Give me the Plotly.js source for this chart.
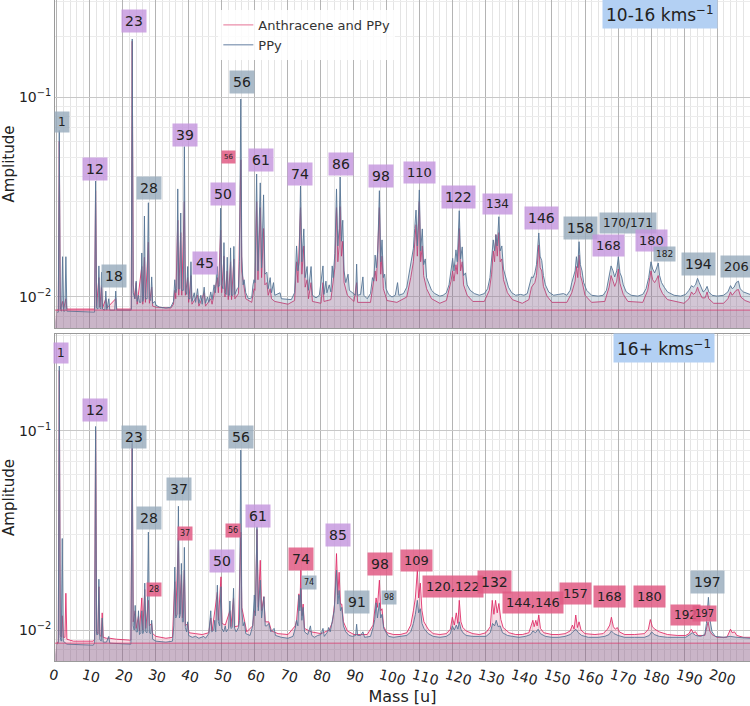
<!DOCTYPE html>
<html><head><meta charset="utf-8">
<script src="https://cdn.plot.ly/plotly-3.0.1.min.js"></script>
<style>html,body{margin:0;padding:0;background:#fff;}#chart{width:750px;height:706px;}</style>
</head><body><div id="chart"></div>
<script>
// ---------- data: [mass (u), amplitude] ----------
const top_PPy = [[0,0.0084],[0.4,0.0084],[0.7,0.068],[1.0,0.0086],[1.4,0.0085],[1.7,0.0159],[2.0,0.0085],[2.4,0.0085],[2.7,0.0159],[3.0,0.0085],
[11.4,0.0084],[11.7,0.038],[12.0,0.0088],[12.4,0.0087],[12.7,0.0143],[13.0,0.0088],[13.3,0.0087],[13.5,0.0133],[13.8,0.0087],[14.5,0.0086],[14.8,0.0107],[15.1,0.0086],[15.7,0.0098],[16.0,0.0086],[17.5,0.0086],[17.8,0.0107],[18.1,0.0086],
[22.5,0.0086],[22.8,0.195],[23.1,0.0105],[23.6,0.0098],[24.0,0.012],[24.3,0.0095],[24.7,0.0102],[25.0,0.0094],[25.4,0.0094],[25.7,0.0166],[26.0,0.0095],[26.2,0.0098],[26.5,0.0254],[26.8,0.0098],[27.3,0.0098],[27.7,0.0296],[28.0,0.0098],[28.4,0.0096],[28.7,0.0126],[29.0,0.0093],[29.7,0.0095],[30.0,0.0091],[31,0.0089],[33,0.0088],[34.5,0.0089],
[35.3,0.0095],[35.7,0.0122],[36.0,0.0105],[36.3,0.011],[36.6,0.0347],[36.9,0.011],[37.2,0.011],[37.5,0.0263],[37.8,0.0108],[38.3,0.0108],[38.6,0.0565],[38.9,0.0108],[39.3,0.0103],[39.6,0.0142],[39.9,0.0098],[40.3,0.0098],[40.6,0.015],[40.9,0.0095],[41.6,0.0105],[42,0.0094],[42.6,0.011],[43,0.0093],[43.6,0.0102],[44,0.0092],[44.6,0.0112],[45,0.0093],[45.6,0.0100],[46,0.0094],[46.6,0.0106],[47,0.0097],[47.6,0.0115],[48,0.0105],[48.6,0.0142],[48.9,0.0112],[49.3,0.0115],[49.6,0.0278],[49.9,0.0115],[50.3,0.011],[50.6,0.0187],[50.9,0.0105],[51.3,0.0103],[51.6,0.0158],[51.9,0.0102],[52.3,0.0102],[52.6,0.0176],[52.9,0.0102],[53.3,0.0102],[53.6,0.0179],[53.9,0.0103],[54.6,0.011],[55.0,0.0112],[55.3,0.015],[55.7,0.0977],[56.0,0.016],[56.4,0.0115],[56.7,0.0122],[57.2,0.0105],[58,0.0098],[59,0.0099],[59.4,0.0115],[59.7,0.0122],[60.0,0.0118],[60.5,0.0412],[60.9,0.0135],[61.6,0.0372],[62.0,0.014],[62.6,0.0324],[63.0,0.013],[63.6,0.0133],[64.0,0.011],[64.6,0.0125],[65.0,0.0105],[65.6,0.0118],[66,0.0102],[67.6,0.0105],[68,0.0098],[70,0.0097],[71,0.0097],
[72.0,0.0105],[72.6,0.018],[73.0,0.0135],[73.4,0.015],[73.8,0.0359],[74.2,0.015],[74.8,0.0219],[75.2,0.0125],[75.8,0.0142],[76.2,0.0108],[77.0,0.0142],[77.4,0.0102],[78.5,0.0099],[79.5,0.0102],[80.6,0.0143],[80.9,0.0103],[81.5,0.012],[81.8,0.0105],[82.5,0.0115],[83.0,0.0106],[83.4,0.0143],[83.7,0.0125],[84.2,0.0165],[84.7,0.0347],[85.1,0.018],[85.5,0.022],[85.8,0.0398],[86.2,0.019],[86.6,0.0242],[87.0,0.0135],[87.5,0.0118],[88.2,0.013],[88.6,0.0108],[89.5,0.0105],[90.5,0.0102],[90.8,0.0146],[91.1,0.0102],[92,0.0103],[92.7,0.0126],[93,0.0102],[94,0.0098],[95,0.0104],[95.6,0.0125],[96,0.012],[96.4,0.0162],[96.8,0.014],[97.2,0.017],[97.7,0.034],[98.1,0.015],[98.5,0.0193],[98.9,0.0125],[99.3,0.013],[99.7,0.011],[100.5,0.0103],[101.5,0.0100],[102.5,0.0102],[103.2,0.0118],[103.6,0.0102],[105,0.0104],[106,0.0112],[106.7,0.013],[107.2,0.0145],[107.6,0.0155],[108.0,0.0175],[108.4,0.022],[108.8,0.0272],[109.2,0.018],[109.8,0.0343],[110.2,0.017],[110.7,0.0219],[111.1,0.0145],[111.6,0.0155],[112.0,0.0125],[112.8,0.0115],[113.5,0.0108],[114.5,0.0104],[116,0.0101],[117,0.0102],[118,0.0105],[118.8,0.0115],[119.4,0.0135],[119.9,0.0156],[120.3,0.0135],[120.9,0.0172],[121.3,0.015],[121.9,0.027],[122.3,0.0155],[122.8,0.0178],[123.2,0.0128],[123.8,0.0132],[124.3,0.0115],[125.2,0.0108],[126.5,0.0104],[128,0.0102],[129.5,0.0104],[130.5,0.011],[131.2,0.0125],[131.7,0.015],[132.2,0.0193],[132.6,0.017],[133.0,0.0205],[133.4,0.018],[133.9,0.0252],[134.3,0.017],[134.8,0.018],[135.3,0.0138],[136.0,0.0125],[136.8,0.0112],[137.8,0.0105],[139,0.0102],[140.5,0.0103],[141.5,0.0102],[142.5,0.0104],[143.2,0.0115],[143.8,0.0126],[144.3,0.0125],[144.8,0.0132],[145.3,0.0145],[146.0,0.0209],[146.4,0.016],[146.9,0.0152],[147.4,0.0128],[148.0,0.0115],[149,0.0106],[150.5,0.0102],[152,0.0103],[153.5,0.0104],[154.5,0.0102],[155.5,0.0108],[156.0,0.0118],[156.5,0.0126],[157.0,0.0135],[157.4,0.0159],[157.8,0.014],[158.2,0.0189],[158.6,0.0145],[159.1,0.0135],[159.6,0.0118],[160.5,0.0108],[162,0.0102],[164,0.0101],[165.5,0.0102],[166.5,0.0108],[167.3,0.0125],[167.9,0.0143],[168.5,0.0135],[169.0,0.0126],[169.6,0.0135],[170.1,0.0159],[170.6,0.0132],[171.1,0.0126],[171.6,0.0115],[172.5,0.0106],[174,0.0102],[176,0.0101],[177.5,0.0103],[178.5,0.011],[179.3,0.0125],[180.0,0.015],[180.5,0.0138],[181.1,0.0132],[181.6,0.0138],[182.2,0.0148],[182.6,0.0128],[183.2,0.0118],[184,0.0112],[185,0.0106],[187,0.0102],[189,0.0101],[190.5,0.0103],[191.5,0.0108],[192.3,0.0114],[192.8,0.0112],[193.5,0.0115],[194.1,0.0124],[194.6,0.0118],[195.2,0.0112],[195.8,0.0106],[196.4,0.0108],[197.0,0.0113],[197.5,0.0106],[198.5,0.0102],[200,0.0101],[202,0.0102],[203.3,0.0106],[204.1,0.0114],[204.6,0.011],[205.2,0.0112],[205.8,0.0118],[206.5,0.012],[207.0,0.011],[208,0.0106],[210,0.0103]];

const top_AnthPPy = [[0,0.0086],[0.4,0.0086],[0.7,0.060],[1.0,0.0087],[1.7,0.0095],[2.0,0.0087],[2.7,0.0098],[3.0,0.0087],[11.4,0.0087],[11.7,0.034],[12.0,0.009],[12.7,0.0125],[13.0,0.0089],[13.5,0.0115],[13.8,0.0088],[14.8,0.0098],[15.1,0.0088],[17.8,0.0098],[18.1,0.0087],[22.5,0.0087],[22.8,0.19],[23.1,0.0115],[23.6,0.0098],[24.0,0.0118],[24.3,0.0092],[25.7,0.0142],[26.0,0.0092],[26.5,0.0158],[26.8,0.0094],[27.7,0.0188],[28.0,0.0093],[28.7,0.0112],[29.0,0.009],[30,0.0089],[34.5,0.0088],[35.3,0.0092],[35.7,0.0108],[36.0,0.0098],[36.6,0.0242],[36.9,0.0102],[37.5,0.021],[37.8,0.0102],[38.6,0.030],[38.9,0.0102],[39.6,0.0125],[39.9,0.0094],[40.6,0.0128],[40.9,0.0092],[42.6,0.0102],[43,0.009],[44.6,0.0105],[45,0.009],[46.6,0.0098],[47,0.0092],[48.6,0.0125],[48.9,0.0105],[49.6,0.0216],[49.9,0.0105],[50.6,0.0160],[50.9,0.0100],[51.6,0.0135],[51.9,0.0097],[52.6,0.0150],[52.9,0.0097],[53.6,0.0155],[53.9,0.0098],[55.0,0.0104],[55.7,0.0485],[56.0,0.0135],[56.7,0.011],[57.2,0.0098],[59,0.0094],[59.7,0.011],[60.0,0.0108],[60.5,0.030],[60.9,0.0122],[61.6,0.028],[62.0,0.0125],[62.6,0.022],[63.0,0.0115],[63.6,0.0118],[64.0,0.0102],[64.6,0.011],[65,0.0098],[66,0.0095],[70,0.0092],[72,0.0096],[72.6,0.015],[73.0,0.0118],[73.8,0.028],[74.2,0.013],[74.8,0.018],[75.2,0.0112],[75.8,0.0122],[76.2,0.0098],[77.0,0.0118],[77.4,0.0095],[80,0.0093],[80.6,0.0118],[80.9,0.0095],[83,0.0097],[84.2,0.014],[84.7,0.028],[85.1,0.015],[85.5,0.018],[85.8,0.0283],[86.2,0.016],[86.6,0.019],[87.0,0.0118],[88,0.0102],[90,0.0095],[90.8,0.0118],[91.1,0.0094],[95,0.0094],[96.4,0.0135],[96.8,0.012],[97.7,0.028],[98.1,0.013],[98.5,0.016],[98.9,0.011],[100,0.0096],[103,0.0094],[106,0.0100],[107.2,0.0125],[108.0,0.015],[108.8,0.023],[109.2,0.016],[109.8,0.030],[110.2,0.015],[110.7,0.018],[111.1,0.0128],[112,0.011],[113.5,0.0098],[116,0.0093],[118,0.0096],[119.4,0.012],[119.9,0.0135],[120.3,0.012],[120.9,0.0145],[121.3,0.013],[121.9,0.022],[122.3,0.0135],[122.8,0.015],[123.2,0.0115],[124.3,0.0102],[126,0.0095],[129.5,0.0095],[131,0.0108],[131.7,0.013],[132.2,0.017],[132.6,0.015],[133.0,0.0205],[133.4,0.016],[133.9,0.021],[134.3,0.015],[134.8,0.0155],[135.3,0.0122],[136.5,0.0105],[138,0.0097],[141,0.0093],[143,0.0097],[143.8,0.0112],[144.8,0.0118],[145.3,0.0128],[146.0,0.0182],[146.4,0.014],[146.9,0.0135],[147.4,0.0113],[148.5,0.0101],[150,0.0094],[154.5,0.0094],[156,0.0105],[156.5,0.0112],[157.0,0.012],[157.4,0.0142],[157.8,0.0125],[158.2,0.0162],[158.6,0.0128],[159.1,0.012],[160,0.0102],[162,0.0094],[166,0.0095],[167.3,0.0112],[167.9,0.0128],[168.5,0.012],[169.0,0.0113],[169.6,0.012],[170.1,0.0138],[170.6,0.0117],[171.6,0.0103],[173,0.0095],[177.5,0.0094],[179,0.0108],[180.0,0.0135],[180.5,0.0122],[181.1,0.0118],[181.6,0.0122],[182.2,0.0128],[182.6,0.0112],[183.5,0.0104],[185,0.0097],[190,0.0093],[191.5,0.0098],[192.3,0.0106],[192.8,0.0103],[193.5,0.0105],[194.1,0.0112],[194.6,0.0106],[195.5,0.0099],[196.4,0.0099],[197.0,0.0106],[197.5,0.0098],[199,0.0093],[202,0.0093],[203.3,0.0098],[204.1,0.0106],[204.6,0.0102],[205.8,0.0108],[206.5,0.0109],[207.2,0.0100],[208.5,0.0096],[210,0.0094]];

const bot_PPy = [[0,0.0085],[0.4,0.0086],[0.7,0.211],[1.0,0.0092],[1.3,0.0088],[1.6,0.0288],[1.9,0.0088],[2.5,0.0086],[3,0.0085],[11,0.0084],[11.4,0.0086],[11.7,0.105],[12.0,0.0095],[12.4,0.0095],[12.7,0.018],[13.0,0.009],[13.4,0.0088],[13.7,0.0115],[14.0,0.0087],[15,0.0087],[15.7,0.0093],[16,0.0086],[22.4,0.0085],[22.8,0.088],[23.1,0.0105],[23.4,0.0100],[23.7,0.0133],[24.0,0.0098],[24.4,0.0098],[24.7,0.0125],[25.0,0.0095],[25.4,0.0097],[25.7,0.0125],[26.0,0.0096],[26.3,0.0099],[26.6,0.0172],[26.9,0.0098],[27.3,0.0097],[27.7,0.031],[28.0,0.0097],[28.4,0.0096],[28.7,0.0112],[29.0,0.009],[30,0.0088],[33,0.0087],[35,0.0088],[35.4,0.0105],[35.7,0.0207],[36.0,0.0115],[36.4,0.012],[36.8,0.0418],[37.1,0.0115],[37.4,0.012],[37.7,0.0216],[38.0,0.011],[38.3,0.011],[38.6,0.026],[38.9,0.0103],[39.3,0.0098],[39.6,0.011],[39.9,0.0094],[41,0.0092],[42,0.0093],[43,0.0091],[44.5,0.0093],[45,0.0091],[46,0.0096],[46.6,0.0125],[46.9,0.0098],[47.5,0.01],[47.8,0.0112],[48.1,0.0098],[48.6,0.0168],[48.9,0.011],[49.3,0.0105],[49.7,0.0165],[50.0,0.0102],[50.5,0.0098],[51,0.0105],[51.3,0.0098],[52,0.0102],[52.4,0.014],[52.7,0.0102],[53.1,0.0103],[53.5,0.0162],[53.8,0.0102],[54.3,0.0098],[55,0.0103],[55.3,0.0112],[55.7,0.080],[56.0,0.0125],[56.4,0.0105],[56.8,0.011],[57.2,0.0096],[58.5,0.0094],[59.3,0.0105],[59.8,0.015],[60.1,0.0118],[60.6,0.033],[61.0,0.0125],[61.6,0.0178],[62.0,0.0115],[62.7,0.0147],[63.1,0.0105],[63.6,0.0105],[64.2,0.0108],[64.8,0.0098],[65.8,0.0102],[66.2,0.0094],[68,0.0092],[70,0.0091],[71.5,0.0093],[72.2,0.0102],[72.6,0.0112],[73.0,0.0105],[73.3,0.0150],[73.6,0.0125],[73.9,0.0162],[74.2,0.0112],[74.6,0.013],[75.0,0.0098],[76,0.0095],[76.8,0.0105],[77.2,0.0094],[78,0.0092],[79,0.0094],[80,0.0095],[80.6,0.0102],[81,0.0093],[82,0.0098],[82.3,0.0103],[82.8,0.0098],[83.3,0.0108],[84.0,0.0125],[84.7,0.020],[85.1,0.0135],[85.5,0.0158],[85.9,0.0125],[86.3,0.013],[86.8,0.0105],[87.5,0.0098],[88.5,0.0094],[89.5,0.0093],[90.5,0.0094],[90.8,0.0107],[91.1,0.0094],[92,0.0094],[92.7,0.0098],[93.2,0.0092],[95,0.0093],[95.8,0.0103],[96.3,0.0113],[96.7,0.0137],[97.1,0.0115],[97.7,0.0137],[98.1,0.0115],[98.5,0.012],[99.0,0.0102],[99.6,0.0098],[100.5,0.0093],[102,0.0092],[104,0.0093],[106,0.0094],[107.2,0.0098],[108.0,0.0108],[108.6,0.012],[109.2,0.0141],[109.6,0.0122],[110.1,0.0128],[110.6,0.0108],[111.2,0.0102],[112.5,0.0096],[114,0.0093],[116,0.0092],[118,0.0093],[119.2,0.0096],[119.8,0.0105],[120.4,0.010],[121.0,0.0106],[121.5,0.0101],[121.9,0.011],[122.4,0.0101],[123,0.0097],[124,0.0094],[126,0.0093],[128,0.0093],[130,0.0093],[131.3,0.0097],[132.0,0.0108],[132.6,0.0105],[133.1,0.0112],[133.7,0.0104],[134.3,0.0105],[135,0.0097],[136.5,0.0094],[138,0.0093],[140,0.0092],[142,0.0093],[143.5,0.0095],[144.2,0.0099],[145,0.0097],[145.8,0.0101],[146.5,0.0096],[148,0.0093],[150,0.0092],[152,0.0092],[154,0.0093],[155.5,0.0095],[156.5,0.0098],[157.2,0.0101],[158,0.0097],[159,0.0094],[161,0.0092],[164,0.0092],[166,0.0093],[167.3,0.0095],[168,0.0099],[168.8,0.0096],[170,0.0094],[172,0.0092],[175,0.0092],[178,0.0092],[179.5,0.0094],[180.2,0.0098],[181,0.0095],[182.5,0.0093],[185,0.0092],[188,0.0092],[190.5,0.0092],[191.8,0.0095],[192.5,0.0097],[193.5,0.0094],[195,0.0093],[196.3,0.0095],[196.8,0.0108],[197.4,0.0146],[197.9,0.0112],[198.5,0.0098],[199.5,0.0093],[202,0.0092],[204,0.0093],[206,0.0092],[210,0.0091]];

const bot_AnthPPy = [[0,0.0086],[0.4,0.0088],[0.7,0.2],[1.0,0.0095],[1.3,0.0092],[1.6,0.0118],[1.9,0.0092],[2.4,0.0092],[2.7,0.0153],[3.0,0.009],[5,0.0088],[11,0.0088],[11.4,0.009],[11.7,0.100],[12.0,0.0098],[12.4,0.0096],[12.7,0.0165],[13.0,0.0094],[13.4,0.0093],[13.7,0.0122],[14.0,0.0092],[15,0.0091],[16,0.0091],[18,0.0090],[22.4,0.0089],[22.8,0.086],[23.1,0.011],[23.7,0.0125],[24.0,0.0102],[24.7,0.0118],[25.0,0.0099],[25.7,0.0145],[26.0,0.0100],[26.6,0.016],[26.9,0.0102],[27.7,0.0141],[28.0,0.0105],[28.7,0.0108],[29.0,0.0096],[30,0.0093],[33,0.0091],[35,0.0092],[35.7,0.0175],[36.0,0.0118],[36.8,0.029],[37.1,0.012],[37.7,0.019],[38.0,0.0115],[38.6,0.020],[38.9,0.0105],[39.6,0.0108],[40,0.0097],[42,0.0096],[44,0.0095],[46,0.0097],[46.6,0.0115],[47,0.0099],[48.6,0.0155],[48.9,0.0112],[49.7,0.0185],[50.0,0.0108],[51,0.0106],[52.4,0.0125],[52.7,0.0104],[53.5,0.0145],[53.8,0.0104],[55,0.0105],[55.7,0.031],[56.0,0.013],[56.8,0.0112],[57.5,0.0098],[59.3,0.0105],[59.8,0.0125],[60.1,0.0122],[60.6,0.032],[61.0,0.013],[61.6,0.0224],[62.0,0.0125],[62.7,0.0147],[63.1,0.011],[64.2,0.011],[65,0.0099],[67,0.0096],[70,0.0095],[72.2,0.0105],[72.6,0.0112],[73.3,0.0152],[73.6,0.013],[73.9,0.020],[74.2,0.0118],[74.6,0.0135],[75,0.0102],[77,0.0098],[80,0.0096],[82.5,0.0100],[83.5,0.011],[84.1,0.0135],[84.7,0.0242],[85.1,0.015],[85.5,0.0195],[85.9,0.0135],[86.3,0.0135],[86.8,0.011],[88,0.0099],[90,0.0095],[92,0.0095],[94,0.0095],[95.8,0.0106],[96.3,0.0125],[96.7,0.0145],[97.1,0.013],[97.7,0.0178],[98.1,0.0125],[98.5,0.0128],[99,0.0104],[100,0.0097],[102,0.0095],[104,0.0095],[106,0.0097],[107.2,0.0106],[108.0,0.0125],[108.6,0.0145],[109.2,0.020],[109.6,0.0145],[110.1,0.0172],[110.6,0.0125],[111.2,0.0110],[112.5,0.0101],[114,0.0096],[116,0.0095],[118,0.0096],[119.2,0.0101],[119.8,0.0116],[120.4,0.0106],[121.0,0.0122],[121.5,0.0108],[121.9,0.0141],[122.4,0.011],[123,0.0103],[124,0.0099],[126,0.0096],[128,0.0095],[130,0.0097],[131.3,0.0104],[131.9,0.0141],[132.4,0.012],[132.9,0.0141],[133.4,0.0122],[133.9,0.0136],[134.5,0.0113],[135.2,0.0103],[137,0.0097],[139,0.0095],[141,0.0095],[143,0.0097],[143.7,0.0106],[144.2,0.0112],[144.6,0.0104],[145.1,0.0112],[145.5,0.0105],[146.0,0.0119],[146.5,0.0102],[147.5,0.0097],[150,0.0095],[152,0.0095],[154,0.0096],[155.5,0.0099],[156.2,0.0106],[156.7,0.0101],[157.2,0.0119],[157.7,0.0103],[158.2,0.0110],[158.8,0.0100],[160,0.0096],[163,0.0095],[165.5,0.0096],[166.8,0.0101],[167.5,0.0106],[168.0,0.0116],[168.6,0.0104],[169.2,0.0101],[169.8,0.0103],[170.4,0.0098],[172,0.0095],[175,0.0095],[178,0.0096],[179.2,0.0101],[179.8,0.0113],[180.4,0.0104],[181.2,0.0101],[182.5,0.0098],[185,0.0095],[188,0.0094],[190.5,0.0094],[191.5,0.0096],[192.2,0.0101],[192.8,0.0097],[193.5,0.0098],[194.2,0.0094],[196.3,0.0094],[196.9,0.0106],[197.3,0.011],[197.8,0.0099],[198.5,0.0095],[200,0.0092],[203,0.0092],[204.1,0.0101],[204.6,0.0097],[205.3,0.0098],[206,0.0094],[208,0.0092],[210,0.0092]];

// reference level line
const levelLine = 0.0086;

// labels: [text, mass position, log10 position, colour key, font size]
const topLabels = [
 ["1",1.5,-1.125,"g",12],["12",11.5,-1.36,"p",14],["18",17.3,-1.895,"g",14],["23",23.3,-0.62,"p",14],
 ["28",27.9,-1.455,"g",14],["39",38.8,-1.19,"p",14],["45",44.8,-1.83,"p",14],["50",50.3,-1.485,"p",14],
 ["56",52.1,-1.30,"r",7],["56",56.1,-0.925,"g",14],["61",61.8,-1.315,"p",14],["74",73.6,-1.385,"p",14],
 ["86",86.1,-1.335,"p",14],["98",98.2,-1.395,"p",14],["110",110,-1.38,"p",13],["122",121.8,-1.50,"p",14],
 ["134",133.6,-1.535,"p",12],["146",146.7,-1.605,"p",14],["158",158.5,-1.655,"g",14],["168",167,-1.745,"p",13],
 ["170/171",173,-1.63,"g",12],["180",180.3,-1.72,"p",13],["182",184.2,-1.785,"g",9],["194",194.5,-1.835,"g",14],
 ["206",205.8,-1.85,"g",13]
];
const botLabels = [
 ["1",1.2,-0.61,"p",12],["12",11.5,-0.895,"p",14],["23",23.3,-1.03,"g",14],["28",27.9,-1.44,"g",14],
 ["28",29.4,-1.795,"r",8],["37",37.0,-1.29,"g",14],["37",38.8,-1.515,"r",8],["50",50.0,-1.655,"p",14],
 ["56",53.3,-1.50,"r",8],["56",55.8,-1.03,"g",14],["61",60.9,-1.43,"p",14],["74",73.9,-1.645,"r",14],
 ["74",76.4,-1.76,"g",8],["85",85.2,-1.525,"p",14],["91",90.9,-1.86,"g",14],["98",97.9,-1.67,"r",14],
 ["98",100.6,-1.835,"g",8],["109",108.8,-1.65,"r",13],["120,122",120,-1.78,"r",13],["132",132.7,-1.76,"r",14],
 ["144,146",144.2,-1.86,"r",13],["157",157,-1.815,"r",13],["168",167.3,-1.83,"r",13],["180",179.4,-1.83,"r",13],
 ["192",190.6,-1.925,"r",12],["197",196.3,-1.915,"r",10],["197",197,-1.76,"g",14]
];
const xTicks = [0,10,20,30,40,50,60,70,80,90,100,110,120,130,140,150,160,170,180,190,200];
const panelTitles = ["10-16 kms<sup>−1</sup>","16+ kms<sup>−1</sup>"];
const seriesNames = ["Anthracene and PPy","PPy"];

// ---------- build ----------
const FONT = "DejaVu Sans, sans-serif";
const PINK = "rgba(222,40,100,0.85)", BLUE = "rgba(88,118,150,0.9)";
const PINKFILL = "rgba(224,60,115,0.17)", BLUEFILL = "rgba(95,127,159,0.25)";
const BASEFILL = "rgba(150,70,115,0.13)";
const boxCol = {p:"rgba(196,150,222,0.82)", g:"rgba(150,170,188,0.8)", r:"rgba(224,90,132,0.85)"};

const traces = [];
function base(xa, ya){ traces.push({x:[-5,215], y:[0.003,0.003], xaxis:xa, yaxis:ya, mode:"lines", line:{width:0}, hoverinfo:"skip", showlegend:false}); }
function spec(pairs, xa, ya, col, fill){
  base(xa, ya);
  traces.push({x:pairs.map(p=>p[0]), y:pairs.map(p=>p[1]), xaxis:xa, yaxis:ya, mode:"lines",
    line:{color:col, width:1}, fill:"tonexty", fillcolor:fill, showlegend:false, hoverinfo:"skip"});
}
function level(xa, ya){
  base(xa, ya);
  traces.push({x:[-5,215], y:[levelLine,levelLine], xaxis:xa, yaxis:ya, mode:"lines",
    line:{color:"rgba(215,60,110,0.8)", width:1}, fill:"tonexty", fillcolor:BASEFILL, showlegend:false, hoverinfo:"skip"});
}
spec(top_AnthPPy, "x", "y", PINK, PINKFILL);
spec(top_PPy, "x", "y", BLUE, BLUEFILL);
level("x", "y");
spec(bot_AnthPPy, "x2", "y2", PINK, PINKFILL);
spec(bot_PPy, "x2", "y2", BLUE, BLUEFILL);
level("x2", "y2");
traces.push({x:[null], y:[null], mode:"lines", name:seriesNames[0], line:{color:"rgba(232,130,160,0.9)", width:1.3}, xaxis:"x", yaxis:"y"});
traces.push({x:[null], y:[null], mode:"lines", name:seriesNames[1], line:{color:"rgba(140,160,185,0.9)", width:1.3}, xaxis:"x", yaxis:"y"});

const annotations = [];
function addLabels(list, xr, yr){
  list.forEach(l=>{
    annotations.push({text:l[0], x:l[1], y:l[2], xref:xr, yref:yr, showarrow:false, xanchor:"center", yanchor:"middle",
      font:{family:FONT, size:l[4], color:"#222"}, bgcolor:boxCol[l[3]], borderpad:l[4]>=12?3:2});
  });
}
addLabels(topLabels, "x", "y");
addLabels(botLabels, "x2", "y2");
annotations.push({text:panelTitles[0], xref:"paper", yref:"paper", x:0.8705, y:0.979, xanchor:"center", yanchor:"middle", showarrow:false,
  font:{family:FONT, size:17, color:"#222"}, bgcolor:"#b3d0f3", borderpad:3});
annotations.push({text:panelTitles[1], xref:"paper", yref:"paper", x:0.876, y:0.4735, xanchor:"center", yanchor:"middle", showarrow:false,
  font:{family:FONT, size:17, color:"#222"}, bgcolor:"#b3d0f3", borderpad:3});

const minorVals = [0.007,0.008,0.009,0.02,0.03,0.04,0.05,0.06,0.07,0.08,0.09,0.2,0.3,0.4];
function yax(domain){
  return {type:"log", range:[-2.155,-0.515], domain:domain, tickvals:[0.01,0.1],
    ticktext:["10<sup>−2</sup>","10<sup>−1</sup>"], tickfont:{family:FONT, size:14, color:"#222"},
    showgrid:true, gridcolor:"#c8c8c8", gridwidth:1, zeroline:false, ticks:"",
    minor:{tickvals:minorVals, showgrid:true, gridcolor:"#ececec", gridwidth:1, ticks:""},
    showline:true, mirror:true, linecolor:"#9a9a9a", linewidth:1,
    title:{text:"Amplitude", font:{family:FONT, size:15, color:"#222"}, standoff:4}};
}
function xax(anchor, labels){
  return {range:[-0.6,210], anchor:anchor, tickvals:xTicks, showticklabels:labels, tickangle:15, ticklabelshift:-7,
    tickfont:{family:FONT, size:14, color:"#222"}, showgrid:true, gridcolor:"#b4b4b4", gridwidth:1,
    minor:{dtick:2, tick0:0, showgrid:true, gridcolor:"#e4e4e4", gridwidth:1, ticks:""},
    zeroline:false, ticks:"", showline:true, mirror:true, linecolor:"#9a9a9a", linewidth:1,
    title: labels ? {text:"Mass [u]", font:{family:FONT, size:16, color:"#222"}, standoff:2} : {text:""}};
}
const layout = {
  width:750, height:706, margin:{l:55, r:0, t:0, b:45},
  paper_bgcolor:"#fff", plot_bgcolor:"#fff", font:{family:FONT},
  xaxis:xax("y", false), yaxis:yax([0.5038,1]),
  xaxis2:xax("y2", true), yaxis2:yax([0,0.4947]),
  showlegend:true,
  legend:{x:0.235, y:0.985, xanchor:"left", yanchor:"top", bgcolor:"rgba(255,255,255,0.85)", traceorder:"normal",
    font:{family:FONT, size:13, color:"#333"}, itemwidth:30, tracegroupgap:0},
  annotations:annotations
};
Plotly.newPlot("chart", traces, layout, {displayModeBar:false, staticPlot:true});
</script></body></html>
